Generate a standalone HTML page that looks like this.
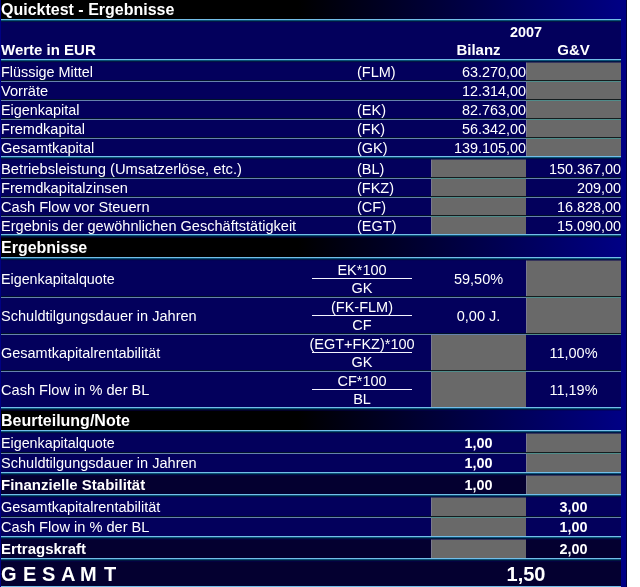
<!DOCTYPE html>
<html><head><meta charset="utf-8"><style>
html,body{margin:0;padding:0;background:#fff;width:640px;height:587px;overflow:hidden}
body>div{position:absolute}
.t{color:#fff;font-family:"Liberation Sans",sans-serif;line-height:20px;height:20px;white-space:pre;will-change:transform}
</style></head><body>
<div style="left:0px;top:0px;width:627px;height:587px;background:#000084;"></div>
<div style="left:626px;top:0px;width:1px;height:587px;background:#00003c;"></div>
<div style="left:1px;top:0px;width:620px;height:19px;background:linear-gradient(to right,#000 0%,#000 48%,#000084 100%);"></div>
<div style="left:1px;top:20px;width:620px;height:39px;background:#03005c;"></div>
<div style="left:1px;top:60px;width:620px;height:174px;background:#03005c;"></div>
<div style="left:1px;top:235px;width:620px;height:22px;background:linear-gradient(to right,#000 0%,#000 48%,#000084 100%);"></div>
<div style="left:1px;top:258px;width:620px;height:149px;background:#03005c;"></div>
<div style="left:1px;top:408px;width:620px;height:22px;background:linear-gradient(to right,#000 0%,#000 48%,#000084 100%);"></div>
<div style="left:1px;top:431px;width:620px;height:41px;background:#03005c;"></div>
<div style="left:1px;top:473px;width:620px;height:21px;background:#040030;"></div>
<div style="left:1px;top:495px;width:620px;height:41px;background:#03005c;"></div>
<div style="left:1px;top:537px;width:620px;height:49px;background:#040030;"></div>
<div style="left:526px;top:62px;width:95px;height:19px;background:#696969;"></div>
<div style="left:526px;top:62px;width:1px;height:19px;background:#7a7a8e;"></div>
<div style="left:526px;top:82px;width:95px;height:18px;background:#696969;"></div>
<div style="left:526px;top:82px;width:1px;height:18px;background:#7a7a8e;"></div>
<div style="left:526px;top:101px;width:95px;height:18px;background:#696969;"></div>
<div style="left:526px;top:101px;width:1px;height:18px;background:#7a7a8e;"></div>
<div style="left:526px;top:120px;width:95px;height:18px;background:#696969;"></div>
<div style="left:526px;top:120px;width:1px;height:18px;background:#7a7a8e;"></div>
<div style="left:526px;top:139px;width:95px;height:17px;background:#696969;"></div>
<div style="left:526px;top:139px;width:1px;height:17px;background:#7a7a8e;"></div>
<div style="left:431px;top:159px;width:95px;height:19px;background:#696969;"></div>
<div style="left:431px;top:159px;width:1px;height:19px;background:#7a7a8e;"></div>
<div style="left:431px;top:179px;width:95px;height:18px;background:#696969;"></div>
<div style="left:431px;top:179px;width:1px;height:18px;background:#7a7a8e;"></div>
<div style="left:431px;top:198px;width:95px;height:18px;background:#696969;"></div>
<div style="left:431px;top:198px;width:1px;height:18px;background:#7a7a8e;"></div>
<div style="left:431px;top:217px;width:95px;height:17px;background:#696969;"></div>
<div style="left:431px;top:217px;width:1px;height:17px;background:#7a7a8e;"></div>
<div style="left:526px;top:260px;width:95px;height:37px;background:#696969;"></div>
<div style="left:526px;top:260px;width:1px;height:37px;background:#7a7a8e;"></div>
<div style="left:526px;top:298px;width:95px;height:36px;background:#696969;"></div>
<div style="left:526px;top:298px;width:1px;height:36px;background:#7a7a8e;"></div>
<div style="left:431px;top:335px;width:95px;height:36px;background:#696969;"></div>
<div style="left:431px;top:335px;width:1px;height:36px;background:#7a7a8e;"></div>
<div style="left:431px;top:372px;width:95px;height:35px;background:#696969;"></div>
<div style="left:431px;top:372px;width:1px;height:35px;background:#7a7a8e;"></div>
<div style="left:526px;top:433px;width:95px;height:20px;background:#696969;"></div>
<div style="left:526px;top:433px;width:1px;height:20px;background:#7a7a8e;"></div>
<div style="left:526px;top:454px;width:95px;height:18px;background:#696969;"></div>
<div style="left:526px;top:454px;width:1px;height:18px;background:#7a7a8e;"></div>
<div style="left:526px;top:475px;width:95px;height:19px;background:#696969;"></div>
<div style="left:526px;top:475px;width:1px;height:19px;background:#7a7a8e;"></div>
<div style="left:431px;top:497px;width:95px;height:20px;background:#696969;"></div>
<div style="left:431px;top:497px;width:1px;height:20px;background:#7a7a8e;"></div>
<div style="left:431px;top:518px;width:95px;height:18px;background:#696969;"></div>
<div style="left:431px;top:518px;width:1px;height:18px;background:#7a7a8e;"></div>
<div style="left:431px;top:539px;width:95px;height:19px;background:#696969;"></div>
<div style="left:431px;top:539px;width:1px;height:19px;background:#7a7a8e;"></div>
<div style="left:1px;top:80px;width:620px;height:1px;background:#00122a;"></div>
<div style="left:1px;top:81px;width:620px;height:1px;background:#6682ac;"></div>
<div style="left:526px;top:80px;width:95px;height:1px;background:#141c1e;"></div>
<div style="left:526px;top:81px;width:95px;height:1px;background:#4f8c8a;"></div>
<div style="left:1px;top:99px;width:620px;height:1px;background:#00122a;"></div>
<div style="left:1px;top:100px;width:620px;height:1px;background:#6682ac;"></div>
<div style="left:526px;top:99px;width:95px;height:1px;background:#141c1e;"></div>
<div style="left:526px;top:100px;width:95px;height:1px;background:#4f8c8a;"></div>
<div style="left:1px;top:118px;width:620px;height:1px;background:#00122a;"></div>
<div style="left:1px;top:119px;width:620px;height:1px;background:#6682ac;"></div>
<div style="left:526px;top:118px;width:95px;height:1px;background:#141c1e;"></div>
<div style="left:526px;top:119px;width:95px;height:1px;background:#4f8c8a;"></div>
<div style="left:1px;top:137px;width:620px;height:1px;background:#00122a;"></div>
<div style="left:1px;top:138px;width:620px;height:1px;background:#6682ac;"></div>
<div style="left:526px;top:137px;width:95px;height:1px;background:#141c1e;"></div>
<div style="left:526px;top:138px;width:95px;height:1px;background:#4f8c8a;"></div>
<div style="left:1px;top:177px;width:620px;height:1px;background:#00122a;"></div>
<div style="left:1px;top:178px;width:620px;height:1px;background:#6682ac;"></div>
<div style="left:431px;top:177px;width:95px;height:1px;background:#141c1e;"></div>
<div style="left:431px;top:178px;width:95px;height:1px;background:#4f8c8a;"></div>
<div style="left:1px;top:196px;width:620px;height:1px;background:#00122a;"></div>
<div style="left:1px;top:197px;width:620px;height:1px;background:#6682ac;"></div>
<div style="left:431px;top:196px;width:95px;height:1px;background:#141c1e;"></div>
<div style="left:431px;top:197px;width:95px;height:1px;background:#4f8c8a;"></div>
<div style="left:1px;top:215px;width:620px;height:1px;background:#00122a;"></div>
<div style="left:1px;top:216px;width:620px;height:1px;background:#6682ac;"></div>
<div style="left:431px;top:215px;width:95px;height:1px;background:#141c1e;"></div>
<div style="left:431px;top:216px;width:95px;height:1px;background:#4f8c8a;"></div>
<div style="left:1px;top:296px;width:620px;height:1px;background:#00122a;"></div>
<div style="left:1px;top:297px;width:620px;height:1px;background:#6682ac;"></div>
<div style="left:526px;top:296px;width:95px;height:1px;background:#141c1e;"></div>
<div style="left:526px;top:297px;width:95px;height:1px;background:#4f8c8a;"></div>
<div style="left:1px;top:333px;width:620px;height:1px;background:#00122a;"></div>
<div style="left:1px;top:334px;width:620px;height:1px;background:#6682ac;"></div>
<div style="left:526px;top:333px;width:95px;height:1px;background:#141c1e;"></div>
<div style="left:526px;top:334px;width:95px;height:1px;background:#4f8c8a;"></div>
<div style="left:1px;top:370px;width:620px;height:1px;background:#00122a;"></div>
<div style="left:1px;top:371px;width:620px;height:1px;background:#6682ac;"></div>
<div style="left:431px;top:370px;width:95px;height:1px;background:#141c1e;"></div>
<div style="left:431px;top:371px;width:95px;height:1px;background:#4f8c8a;"></div>
<div style="left:1px;top:452px;width:620px;height:1px;background:#00122a;"></div>
<div style="left:1px;top:453px;width:620px;height:1px;background:#6682ac;"></div>
<div style="left:526px;top:452px;width:95px;height:1px;background:#141c1e;"></div>
<div style="left:526px;top:453px;width:95px;height:1px;background:#4f8c8a;"></div>
<div style="left:1px;top:516px;width:620px;height:1px;background:#00122a;"></div>
<div style="left:1px;top:517px;width:620px;height:1px;background:#6682ac;"></div>
<div style="left:431px;top:516px;width:95px;height:1px;background:#141c1e;"></div>
<div style="left:431px;top:517px;width:95px;height:1px;background:#4f8c8a;"></div>
<div style="left:1px;top:19px;width:620px;height:1px;background:#74bee8;"></div>
<div style="left:1px;top:20px;width:620px;height:1px;background:#0a5278;"></div>
<div style="left:1px;top:21px;width:620px;height:1px;background:rgba(0,28,64,0.85);"></div>
<div style="left:1px;top:59px;width:620px;height:1px;background:#74bee8;"></div>
<div style="left:1px;top:60px;width:620px;height:1px;background:#0a5278;"></div>
<div style="left:1px;top:61px;width:620px;height:1px;background:rgba(0,28,64,0.85);"></div>
<div style="left:1px;top:62px;width:620px;height:1px;background:rgba(3,0,80,0.5);"></div>
<div style="left:1px;top:156px;width:620px;height:1px;background:#74bee8;"></div>
<div style="left:1px;top:157px;width:620px;height:1px;background:#0a5278;"></div>
<div style="left:1px;top:158px;width:620px;height:1px;background:rgba(0,28,64,0.85);"></div>
<div style="left:1px;top:159px;width:620px;height:1px;background:rgba(3,0,80,0.5);"></div>
<div style="left:1px;top:234px;width:620px;height:1px;background:#74bee8;"></div>
<div style="left:1px;top:235px;width:620px;height:1px;background:#0a5278;"></div>
<div style="left:1px;top:236px;width:620px;height:1px;background:rgba(0,28,64,0.85);"></div>
<div style="left:1px;top:237px;width:620px;height:1px;background:rgba(3,0,80,0.5);"></div>
<div style="left:1px;top:257px;width:620px;height:1px;background:#74bee8;"></div>
<div style="left:1px;top:258px;width:620px;height:1px;background:#0a5278;"></div>
<div style="left:1px;top:259px;width:620px;height:1px;background:rgba(0,28,64,0.85);"></div>
<div style="left:1px;top:260px;width:620px;height:1px;background:rgba(3,0,80,0.5);"></div>
<div style="left:1px;top:407px;width:620px;height:1px;background:#74bee8;"></div>
<div style="left:1px;top:408px;width:620px;height:1px;background:#0a5278;"></div>
<div style="left:1px;top:409px;width:620px;height:1px;background:rgba(0,28,64,0.85);"></div>
<div style="left:1px;top:410px;width:620px;height:1px;background:rgba(3,0,80,0.5);"></div>
<div style="left:1px;top:430px;width:620px;height:1px;background:#74bee8;"></div>
<div style="left:1px;top:431px;width:620px;height:1px;background:#0a5278;"></div>
<div style="left:1px;top:432px;width:620px;height:1px;background:rgba(0,28,64,0.85);"></div>
<div style="left:1px;top:433px;width:620px;height:1px;background:rgba(3,0,80,0.5);"></div>
<div style="left:1px;top:472px;width:620px;height:1px;background:#74bee8;"></div>
<div style="left:1px;top:473px;width:620px;height:1px;background:#0a5278;"></div>
<div style="left:1px;top:474px;width:620px;height:1px;background:rgba(0,28,64,0.85);"></div>
<div style="left:1px;top:475px;width:620px;height:1px;background:rgba(3,0,80,0.5);"></div>
<div style="left:1px;top:494px;width:620px;height:1px;background:#74bee8;"></div>
<div style="left:1px;top:495px;width:620px;height:1px;background:#0a5278;"></div>
<div style="left:1px;top:496px;width:620px;height:1px;background:rgba(0,28,64,0.85);"></div>
<div style="left:1px;top:497px;width:620px;height:1px;background:rgba(3,0,80,0.5);"></div>
<div style="left:1px;top:536px;width:620px;height:1px;background:#74bee8;"></div>
<div style="left:1px;top:537px;width:620px;height:1px;background:#0a5278;"></div>
<div style="left:1px;top:538px;width:620px;height:1px;background:rgba(0,28,64,0.85);"></div>
<div style="left:1px;top:539px;width:620px;height:1px;background:rgba(3,0,80,0.5);"></div>
<div style="left:1px;top:558px;width:620px;height:1px;background:#74bee8;"></div>
<div style="left:1px;top:559px;width:620px;height:1px;background:#0a5278;"></div>
<div style="left:1px;top:560px;width:620px;height:1px;background:rgba(0,28,64,0.85);"></div>
<div style="left:1px;top:561px;width:620px;height:1px;background:rgba(3,0,80,0.5);"></div>
<div style="left:1px;top:586px;width:620px;height:1px;background:#74bee8;"></div>
<div class="t" style="left:1.00px;top:0.00px;width:300px;text-align:left;font-size:16px;font-weight:bold;">Quicktest - Ergebnisse</div>
<div class="t" style="left:476.00px;top:22.00px;width:100px;text-align:center;font-size:14.4px;font-weight:bold;">2007</div>
<div class="t" style="left:1.00px;top:40.00px;width:300px;text-align:left;font-size:15.0px;font-weight:bold;">Werte in EUR</div>
<div class="t" style="left:431.00px;top:40.00px;width:95px;text-align:center;font-size:15.0px;font-weight:bold;">Bilanz</div>
<div class="t" style="left:526.00px;top:40.00px;width:95px;text-align:center;font-size:15.0px;font-weight:bold;">G&amp;V</div>
<div class="t" style="left:1.00px;top:62.00px;width:350px;text-align:left;font-size:14.4px;">Flüssige Mittel</div>
<div class="t" style="left:356.50px;top:62.00px;width:70px;text-align:left;font-size:14.5px;">(FLM)</div>
<div class="t" style="left:435.50px;top:62.00px;width:90px;text-align:right;font-size:14.4px;">63.270,00</div>
<div class="t" style="left:1.00px;top:81.00px;width:350px;text-align:left;font-size:14.6px;">Vorräte</div>
<div class="t" style="left:435.50px;top:81.00px;width:90px;text-align:right;font-size:14.4px;">12.314,00</div>
<div class="t" style="left:1.00px;top:100.00px;width:350px;text-align:left;font-size:14.4px;">Eigenkapital</div>
<div class="t" style="left:356.50px;top:100.00px;width:70px;text-align:left;font-size:14.5px;">(EK)</div>
<div class="t" style="left:435.50px;top:100.00px;width:90px;text-align:right;font-size:14.4px;">82.763,00</div>
<div class="t" style="left:1.00px;top:119.00px;width:350px;text-align:left;font-size:14.55px;">Fremdkapital</div>
<div class="t" style="left:356.50px;top:119.00px;width:70px;text-align:left;font-size:14.5px;">(FK)</div>
<div class="t" style="left:435.50px;top:119.00px;width:90px;text-align:right;font-size:14.4px;">56.342,00</div>
<div class="t" style="left:1.00px;top:138.00px;width:350px;text-align:left;font-size:14.6px;">Gesamtkapital</div>
<div class="t" style="left:356.50px;top:138.00px;width:70px;text-align:left;font-size:14.5px;">(GK)</div>
<div class="t" style="left:435.50px;top:138.00px;width:90px;text-align:right;font-size:14.4px;">139.105,00</div>
<div class="t" style="left:1.00px;top:159.00px;width:350px;text-align:left;font-size:14.76px;">Betriebsleistung (Umsatzerlöse, etc.)</div>
<div class="t" style="left:356.50px;top:159.00px;width:70px;text-align:left;font-size:14.5px;">(BL)</div>
<div class="t" style="left:531.00px;top:159.00px;width:90px;text-align:right;font-size:14.4px;">150.367,00</div>
<div class="t" style="left:1.00px;top:178.00px;width:350px;text-align:left;font-size:14.65px;">Fremdkapitalzinsen</div>
<div class="t" style="left:356.50px;top:178.00px;width:70px;text-align:left;font-size:14.5px;">(FKZ)</div>
<div class="t" style="left:531.00px;top:178.00px;width:90px;text-align:right;font-size:14.4px;">209,00</div>
<div class="t" style="left:1.00px;top:197.00px;width:350px;text-align:left;font-size:14.62px;">Cash Flow vor Steuern</div>
<div class="t" style="left:356.50px;top:197.00px;width:70px;text-align:left;font-size:14.5px;">(CF)</div>
<div class="t" style="left:531.00px;top:197.00px;width:90px;text-align:right;font-size:14.4px;">16.828,00</div>
<div class="t" style="left:1.00px;top:216.00px;width:350px;text-align:left;font-size:14.56px;">Ergebnis der gewöhnlichen Geschäftstätigkeit</div>
<div class="t" style="left:356.50px;top:216.00px;width:70px;text-align:left;font-size:14.5px;">(EGT)</div>
<div class="t" style="left:531.00px;top:216.00px;width:90px;text-align:right;font-size:14.4px;">15.090,00</div>
<div class="t" style="left:1.00px;top:238.00px;width:300px;text-align:left;font-size:16px;font-weight:bold;">Ergebnisse</div>
<div class="t" style="left:1.00px;top:269.00px;width:300px;text-align:left;font-size:14.3px;">Eigenkapitalquote</div>
<div style="left:312px;top:278px;width:100px;height:1px;background:#f4f4ff;"></div>
<div class="t" style="left:282.00px;top:260.00px;width:160px;text-align:center;font-size:14.5px;">EK*100</div>
<div class="t" style="left:282.00px;top:278.00px;width:160px;text-align:center;font-size:14.5px;">GK</div>
<div class="t" style="left:431.00px;top:269.00px;width:95px;text-align:center;font-size:14.5px;">59,50%</div>
<div class="t" style="left:1.00px;top:306.00px;width:300px;text-align:left;font-size:14.55px;">Schuldtilgungsdauer in Jahren</div>
<div style="left:312px;top:315px;width:100px;height:1px;background:#f4f4ff;"></div>
<div class="t" style="left:282.00px;top:297.00px;width:160px;text-align:center;font-size:14.5px;">(FK-FLM)</div>
<div class="t" style="left:282.00px;top:315.00px;width:160px;text-align:center;font-size:14.5px;">CF</div>
<div class="t" style="left:431.00px;top:306.00px;width:95px;text-align:center;font-size:14.5px;">0,00 J.</div>
<div class="t" style="left:1.00px;top:343.00px;width:300px;text-align:left;font-size:14.47px;">Gesamtkapitalrentabilität</div>
<div style="left:312px;top:352px;width:100px;height:1px;background:#f4f4ff;"></div>
<div class="t" style="left:282.00px;top:334.00px;width:160px;text-align:center;font-size:14.5px;">(EGT+FKZ)*100</div>
<div class="t" style="left:282.00px;top:352.00px;width:160px;text-align:center;font-size:14.5px;">GK</div>
<div class="t" style="left:526.00px;top:343.00px;width:95px;text-align:center;font-size:14.5px;">11,00%</div>
<div class="t" style="left:1.00px;top:380.00px;width:300px;text-align:left;font-size:14.6px;">Cash Flow in % der BL</div>
<div style="left:312px;top:389px;width:100px;height:1px;background:#f4f4ff;"></div>
<div class="t" style="left:282.00px;top:371.00px;width:160px;text-align:center;font-size:14.5px;">CF*100</div>
<div class="t" style="left:282.00px;top:389.00px;width:160px;text-align:center;font-size:14.5px;">BL</div>
<div class="t" style="left:526.00px;top:380.00px;width:95px;text-align:center;font-size:14.5px;">11,19%</div>
<div class="t" style="left:1.00px;top:411.00px;width:300px;text-align:left;font-size:16px;font-weight:bold;">Beurteilung/Note</div>
<div class="t" style="left:1.00px;top:433.00px;width:300px;text-align:left;font-size:14.3px;">Eigenkapitalquote</div>
<div class="t" style="left:431.00px;top:433.00px;width:95px;text-align:center;font-size:14.4px;font-weight:bold;">1,00</div>
<div class="t" style="left:1.00px;top:453.00px;width:300px;text-align:left;font-size:14.55px;">Schuldtilgungsdauer in Jahren</div>
<div class="t" style="left:431.00px;top:453.00px;width:95px;text-align:center;font-size:14.4px;font-weight:bold;">1,00</div>
<div class="t" style="left:1.00px;top:475.00px;width:300px;text-align:left;font-size:15.0px;font-weight:bold;">Finanzielle Stabilität</div>
<div class="t" style="left:431.00px;top:475.00px;width:95px;text-align:center;font-size:14.4px;font-weight:bold;">1,00</div>
<div class="t" style="left:1.00px;top:497.00px;width:300px;text-align:left;font-size:14.47px;">Gesamtkapitalrentabilität</div>
<div class="t" style="left:526.00px;top:497.00px;width:95px;text-align:center;font-size:14.4px;font-weight:bold;">3,00</div>
<div class="t" style="left:1.00px;top:517.00px;width:300px;text-align:left;font-size:14.6px;">Cash Flow in % der BL</div>
<div class="t" style="left:526.00px;top:517.00px;width:95px;text-align:center;font-size:14.4px;font-weight:bold;">1,00</div>
<div class="t" style="left:1.00px;top:539.00px;width:300px;text-align:left;font-size:15.0px;font-weight:bold;">Ertragskraft</div>
<div class="t" style="left:526.00px;top:539.00px;width:95px;text-align:center;font-size:14.4px;font-weight:bold;">2,00</div>
<div class="t" style="left:1.20px;top:564.00px;width:30px;text-align:left;font-size:20px;font-weight:bold;">G</div>
<div class="t" style="left:23.20px;top:564.00px;width:30px;text-align:left;font-size:20px;font-weight:bold;">E</div>
<div class="t" style="left:42.40px;top:564.00px;width:30px;text-align:left;font-size:20px;font-weight:bold;">S</div>
<div class="t" style="left:60.50px;top:564.00px;width:30px;text-align:left;font-size:20px;font-weight:bold;">A</div>
<div class="t" style="left:79.70px;top:564.00px;width:30px;text-align:left;font-size:20px;font-weight:bold;">M</div>
<div class="t" style="left:103.80px;top:564.00px;width:30px;text-align:left;font-size:20px;font-weight:bold;">T</div>
<div class="t" style="left:476.00px;top:564.00px;width:100px;text-align:center;font-size:20px;font-weight:bold;">1,50</div>
</body></html>
